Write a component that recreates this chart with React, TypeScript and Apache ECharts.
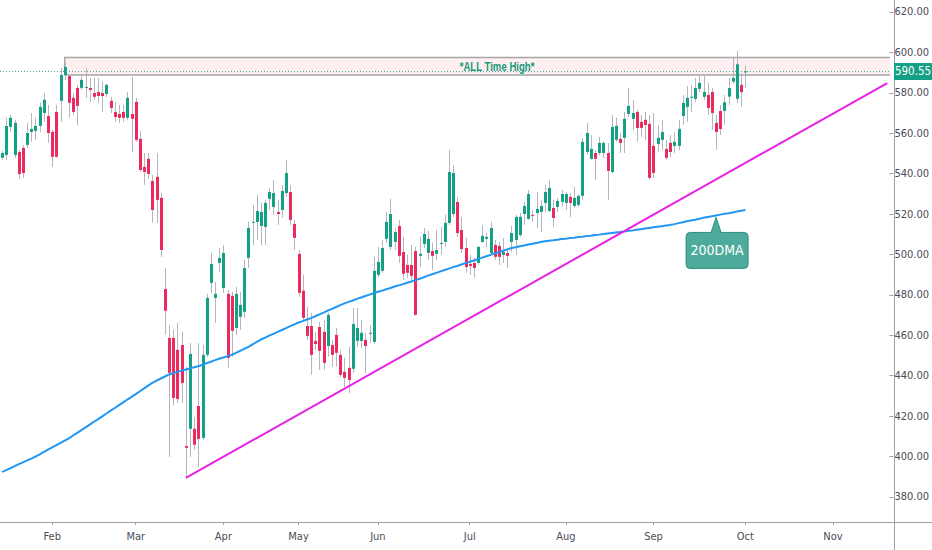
import React, { useEffect, useRef } from 'react';
import * as echarts from 'echarts';

// ---------- data ----------
const MONTH_LABELS = ['Feb', 'Mar', 'Apr', 'May', 'Jun', 'Jul', 'Aug', 'Sep', 'Oct', 'Nov'];
const MONTH_START = [12, 32, 53, 71, 90, 112, 135, 156, 178, 199];
const TOTAL_SLOTS = 213;

// [open, close, low, high]
const CANDLES = [
  [547.8, 550.2, 546.8, 551.2], [549.2, 563.6, 546.8, 567.6], [563.1, 567.6, 560.6, 569.0], [549.2, 565.1, 547.8, 566.6],
  [550.7, 539.8, 537.4, 551.7], [552.7, 540.3, 537.9, 554.2], [554.2, 560.1, 552.7, 565.1], [560.6, 562.1, 555.7, 570.0],
  [561.1, 563.6, 556.7, 567.6], [563.6, 573.0, 560.6, 575.0], [570.0, 576.5, 565.6, 579.9], [568.5, 560.1, 555.2, 574.0],
  [560.6, 548.3, 543.3, 561.6], [570.5, 548.3, 547.8, 574.0], [576.0, 588.8, 565.6, 592.3], [588.8, 592.8, 586.4, 594.5],
  [588.3, 575.0, 567.6, 588.8], [577.5, 570.5, 569.0, 579.9], [582.4, 573.5, 564.1, 583.9], [582.4, 586.4, 581.4, 588.8],
  [582.4, 582.9, 577.5, 592.3], [582.4, 581.4, 575.5, 587.3], [579.9, 578.0, 576.5, 587.3], [580.4, 578.4, 575.0, 587.3],
  [579.9, 578.4, 570.5, 585.4], [579.4, 583.9, 578.0, 584.4], [576.0, 572.5, 570.0, 578.0], [570.5, 568.0, 565.6, 575.5],
  [569.5, 567.6, 565.1, 574.0], [570.5, 567.6, 565.6, 574.0], [567.6, 577.5, 566.6, 580.4], [569.5, 567.1, 550.7, 587.8],
  [575.5, 556.7, 555.7, 577.5], [557.2, 541.8, 540.8, 561.1], [543.3, 540.8, 534.4, 550.2], [547.3, 539.8, 537.4, 550.2],
  [536.4, 522.0, 515.6, 539.3], [538.4, 527.0, 515.6, 550.2], [528.0, 502.2, 498.8, 530.4], [482.9, 472.1, 460.2, 493.3],
  [458.7, 441.4, 399.8, 465.1], [458.7, 429.0, 425.5, 462.7], [452.8, 428.5, 426.5, 466.1], [455.2, 436.4, 426.5, 461.7],
  [405.2, 404.3, 389.4, 444.4], [413.7, 450.8, 399.8, 456.2], [413.7, 405.8, 403.3, 419.6], [425.0, 408.7, 394.9, 456.2],
  [409.2, 450.3, 408.2, 455.2], [450.3, 478.5, 449.3, 480.5], [485.9, 495.3, 481.0, 500.7], [478.5, 480.5, 466.1, 486.4],
  [495.8, 498.3, 491.4, 503.2], [483.4, 500.7, 481.0, 504.7], [480.5, 448.8, 443.9, 482.5], [479.5, 462.2, 449.3, 481.5],
  [463.6, 480.5, 460.2, 484.0], [469.1, 475.0, 462.7, 481.5], [471.6, 493.3, 468.6, 497.3], [498.3, 513.1, 493.3, 516.1],
  [515.6, 516.1, 504.7, 524.5], [516.1, 521.5, 507.2, 529.5], [514.1, 521.0, 504.7, 525.5], [513.6, 525.5, 504.7, 527.0],
  [527.5, 530.9, 522.0, 532.9], [523.5, 530.4, 519.6, 536.9], [521.0, 520.0, 514.6, 527.0], [522.0, 531.4, 518.1, 534.4],
  [530.4, 540.3, 528.5, 546.8], [530.9, 517.1, 514.6, 534.4], [515.1, 508.2, 502.2, 517.1], [500.3, 481.0, 479.0, 502.2],
  [482.0, 468.6, 466.6, 489.9], [464.6, 459.7, 457.7, 474.0], [464.6, 450.3, 440.4, 471.1], [457.2, 455.7, 452.8, 461.7],
  [464.1, 452.3, 442.9, 466.6], [461.7, 446.3, 442.9, 467.6], [454.7, 470.1, 449.3, 471.1], [455.2, 450.3, 444.4, 457.7],
  [460.2, 451.3, 444.4, 463.6], [450.3, 440.4, 439.4, 452.8], [441.9, 438.9, 434.4, 448.8], [443.9, 437.9, 431.5, 454.2],
  [443.4, 465.6, 441.4, 473.5], [457.2, 463.6, 454.2, 473.5], [457.2, 461.2, 453.8, 467.6], [457.7, 454.7, 441.4, 461.2],
  [460.7, 461.2, 456.2, 465.1], [456.7, 491.9, 455.7, 498.8], [489.9, 496.3, 488.9, 503.7], [491.9, 503.2, 490.9, 507.2],
  [507.7, 516.1, 505.7, 521.0], [503.7, 520.0, 502.2, 527.5], [506.2, 511.1, 502.2, 513.1], [514.1, 499.3, 495.8, 517.1],
  [501.2, 490.4, 487.4, 508.7], [494.8, 490.9, 488.4, 499.8], [494.8, 489.4, 487.4, 504.7], [501.7, 470.1, 469.6, 503.7],
  [499.3, 500.3, 493.8, 508.7], [505.2, 510.1, 503.2, 513.1], [500.7, 507.7, 497.3, 511.6], [501.7, 499.3, 492.3, 505.7],
  [500.3, 502.2, 497.3, 512.1], [505.2, 505.7, 499.8, 513.6], [506.2, 515.6, 503.7, 519.6], [515.6, 540.8, 514.6, 551.7],
  [520.0, 540.3, 518.6, 544.3], [526.0, 510.6, 508.7, 528.5], [512.1, 502.7, 500.7, 518.6], [503.2, 493.8, 490.9, 508.2],
  [495.3, 494.3, 489.9, 499.8], [495.8, 493.3, 488.4, 498.3], [495.8, 503.7, 494.8, 504.2], [506.2, 509.2, 505.7, 514.6],
  [507.7, 508.7, 503.7, 510.6], [500.7, 513.1, 499.8, 516.1], [504.7, 498.8, 497.3, 507.2], [504.2, 498.8, 494.8, 506.2],
  [499.8, 501.2, 495.8, 508.2], [500.7, 499.3, 493.3, 503.2], [506.2, 510.6, 501.2, 514.1], [507.2, 518.6, 499.8, 519.6],
  [509.6, 518.6, 508.7, 520.5], [520.0, 524.0, 514.6, 526.0], [517.6, 529.9, 517.1, 531.9], [519.6, 519.3, 516.1, 522.0],
  [520.5, 522.5, 513.1, 530.9], [521.0, 524.0, 511.1, 527.0], [525.5, 530.9, 521.0, 534.4], [521.5, 532.9, 521.0, 536.9],
  [523.0, 518.1, 513.6, 527.0], [523.5, 526.5, 521.0, 528.0], [526.0, 529.9, 523.5, 531.9], [525.5, 529.9, 522.0, 530.9],
  [528.5, 525.5, 518.6, 530.4], [524.0, 528.0, 523.0, 533.4], [524.5, 529.0, 523.5, 529.5], [529.0, 555.7, 527.0, 557.7],
  [550.7, 560.1, 549.2, 565.1], [547.3, 552.2, 546.8, 559.1], [550.2, 547.3, 536.9, 551.7], [550.2, 555.2, 549.2, 558.2],
  [550.2, 555.2, 547.8, 555.7], [550.2, 541.3, 527.0, 555.2], [540.8, 563.1, 540.3, 569.0], [556.7, 563.6, 555.7, 567.6],
  [557.2, 555.2, 550.2, 560.1], [557.7, 567.1, 550.2, 570.5], [569.5, 573.5, 568.0, 582.4], [567.1, 570.0, 561.6, 576.5],
  [570.5, 562.6, 555.7, 571.5], [565.6, 562.6, 558.2, 569.0], [566.6, 564.1, 556.7, 570.5], [564.6, 537.9, 536.9, 569.0],
  [553.7, 540.3, 537.9, 570.0], [554.7, 557.7, 550.7, 564.1], [556.7, 560.6, 551.7, 566.6], [552.2, 547.8, 546.8, 556.7],
  [555.2, 550.7, 548.3, 559.1], [553.7, 555.7, 550.2, 560.6], [553.7, 562.1, 551.7, 566.6], [568.5, 575.0, 564.1, 578.9],
  [573.0, 577.5, 565.6, 583.4], [577.5, 578.0, 570.5, 583.9], [577.0, 582.4, 575.5, 587.3], [581.9, 584.9, 580.4, 588.8],
  [578.0, 580.4, 576.5, 588.8], [578.9, 572.5, 569.0, 584.9], [580.4, 570.0, 561.6, 582.4], [565.1, 560.6, 551.7, 569.0],
  [571.0, 562.1, 559.1, 574.0], [571.0, 575.3, 564.1, 578.9], [578.1, 582.3, 574.0, 587.3], [585.5, 587.4, 584.6, 597.8],
  [577.0, 594.1, 574.8, 600.7], [583.9, 580.3, 573.1, 589.7], [590.3, 590.55, 582.5, 593.4],
];

const MA200 = [
  392.4, 393.3, 394.3, 395.2, 396.2, 397.1, 398.1, 399.0, 400.0,
  401.1, 402.3, 403.4, 404.5, 405.6, 406.8, 407.9, 409.0,
  410.4, 411.7, 413.1, 414.4, 415.8, 417.2, 418.5, 419.9,
  421.3, 422.7, 424.0, 425.4, 426.8, 428.2, 429.5, 430.9,
  432.3, 433.7, 435.1, 436.5,
  437.6, 438.6, 439.6, 440.6,
  441.2, 441.9, 442.5, 443.1,
  443.6, 444.2, 444.7,
  445.4, 446.2, 446.9, 447.7, 448.4,
  449.0, 449.7, 450.3,
  451.3, 452.3, 453.3, 454.3,
  455.5, 456.7, 457.9,
  458.8, 459.8, 460.7, 461.7, 462.6,
  463.5, 464.5, 465.4, 466.3,
  467.0, 467.8, 468.5,
  469.4, 470.3, 471.2, 472.2, 473.1, 474.0, 474.9, 475.8,
  476.5, 477.2, 478.0, 478.7, 479.4, 480.1, 480.8, 481.5,
  482.1, 482.8, 483.4, 484.1, 484.7, 485.3, 486.0, 486.6,
  487.3, 488.0, 488.7, 489.5, 490.2, 490.9, 491.6, 492.3,
  493.0, 493.7, 494.3, 495.0, 495.7, 496.4, 497.0, 497.7,
  498.4, 499.1, 499.8, 500.5, 501.1, 501.8, 502.5, 503.2,
  503.6, 504.0, 504.4, 504.9, 505.3, 505.7, 506.1, 506.5,
  506.8, 507.0, 507.3, 507.6, 507.8, 508.1,
  508.3, 508.6, 508.8, 509.1, 509.3, 509.6, 509.8, 510.1,
  510.4, 510.6, 510.9, 511.1, 511.4, 511.7, 511.9, 512.2,
  512.5, 512.8, 513.1, 513.4, 513.7, 514.0, 514.3, 514.6,
  515.0, 515.5, 515.9, 516.4, 516.8, 517.2, 517.7, 518.1,
  518.5, 518.9, 519.3, 519.7, 520.1, 520.4, 520.8, 521.2, 521.6, 522.0,
];

// trend line endpoints [category index, price]
const TREND_LINE = [[44, 389.4], [212, 584.8]];
// all time high zone: [start index, top price, bottom price]
const ATH_ZONE = [15, 597.5, 588.8];
const ATH_LABEL = '*ALL Time High*';
const MA_LABEL = '200DMA';
const MA_LABEL_INDEX = 171;
const LAST_PRICE = 590.55;
const Y_TICKS = [380, 400, 420, 440, 460, 480, 500, 520, 540, 560, 580, 600, 620];
const Y_MIN = 367.6;
const Y_MAX = 625.9;

// ---------- style ----------
const UP = '#14a085';
const DOWN = '#eb2a5d';
const WICK = '#b3b6bd';
const AXIS_COLOR = '#9ea1aa';
const TEXT_COLOR = '#4a4d57';
const FONT = "'Liberation Sans Narrow', 'DejaVu Sans Condensed', 'Liberation Sans', sans-serif";
const W = 932;
const H = 550;
const GRID_RIGHT = 38;
const GRID_BOTTOM = 28;
const CALLOUT_PATH =
  'M4 0 L25 0 L30 -15 L35 0 L58 0 Q62 0 62 4 L62 32 Q62 36 58 36 L4 36 Q0 36 0 32 L0 4 Q0 0 4 0 Z';

const CATEGORIES = Array.from({ length: TOTAL_SLOTS }, (_, i) => String(i));
const monthOf = (i: number) => {
  const k = MONTH_START.indexOf(i);
  return k >= 0 ? MONTH_LABELS[k] : '';
};
const isMonthStart = (i: number) => MONTH_START.indexOf(i) >= 0;

let registered = false;

export default function App() {
  const ref = useRef<HTMLDivElement>(null);

  useEffect(() => {
    document.body.style.margin = '0';
    if (!registered) {
      echarts.graphic.registerShape('dmaCallout', echarts.graphic.extendPath(CALLOUT_PATH, {}) as any);
      registered = true;
    }
    const chart = echarts.init(ref.current!, null, { renderer: 'svg' });

    const candleData = CANDLES.map((d, i) => [i, d[0], d[1], d[2], d[3]]);

    const option: any = {
      animation: false,
      backgroundColor: '#ffffff',
      grid: { left: -3, right: GRID_RIGHT, top: 0, bottom: GRID_BOTTOM },
      xAxis: {
        type: 'category',
        data: CATEGORIES,
        boundaryGap: true,
        axisLine: { show: false },
        axisTick: {
          show: true,
          alignWithLabel: true,
          interval: (i: number) => isMonthStart(i),
          length: 3,
          lineStyle: { color: AXIS_COLOR },
        },
        axisLabel: {
          interval: (i: number) => isMonthStart(i),
          formatter: (_v: string, i: number) => monthOf(i),
          margin: 9,
          color: TEXT_COLOR,
          fontSize: 11,
          fontFamily: FONT,
        },
        splitLine: { show: false },
      },
      yAxis: {
        type: 'value',
        position: 'right',
        min: Y_MIN,
        max: Y_MAX,
        axisLine: { show: false },
        axisTick: { show: true, length: 4, customValues: Y_TICKS, lineStyle: { color: AXIS_COLOR } },
        axisLabel: {
          customValues: Y_TICKS,
          formatter: (v: number) => v.toFixed(2),
          margin: 5,
          color: TEXT_COLOR,
          fontSize: 11,
          fontFamily: FONT,
        },
        splitLine: { show: false },
      },
      series: [
        {
          type: 'custom',
          name: 'ath',
          clip: true,
          data: [ATH_ZONE],
          encode: { x: 0, y: [1, 2] },
          renderItem: (params: any, api: any) => {
            const cs = params.coordSys;
            const a = api.coord([api.value(0), api.value(1)]);
            const b = api.coord([api.value(0), api.value(2)]);
            const right = cs.x + cs.width + 40;
            return {
              type: 'group',
              children: [
                {
                  type: 'rect',
                  shape: { x: a[0], y: a[1], width: right - a[0], height: b[1] - a[1] },
                  style: { fill: 'rgba(242, 54, 69, 0.08)', stroke: '#a6a6a6', lineWidth: 1.5 },
                },
                {
                  type: 'text',
                  x: (a[0] + right) / 2,
                  y: (a[1] + b[1]) / 2,
                  scaleX: 0.8,
                  style: {
                    text: ATH_LABEL,
                    x: 0,
                    y: 0,
                    align: 'center',
                    verticalAlign: 'middle',
                    fill: '#169a78',
                    fontSize: 12,
                    fontWeight: 'bold',
                    fontFamily: "'Liberation Sans', sans-serif",
                  },
                },
              ],
            };
          },
        },
        {
          type: 'custom',
          name: 'candles',
          clip: true,
          data: candleData,
          encode: { x: 0, y: [1, 2, 3, 4] },
          renderItem: (_params: any, api: any) => {
            const x = api.value(0);
            const o = api.value(1);
            const c = api.value(2);
            const l = api.value(3);
            const h = api.value(4);
            const pO = api.coord([x, o]);
            const pC = api.coord([x, c]);
            const pL = api.coord([x, l]);
            const pH = api.coord([x, h]);
            const w = api.size([1, 0])[0] * 0.72;
            const top = Math.min(pO[1], pC[1]);
            const bh = Math.max(Math.abs(pO[1] - pC[1]), 1);
            const wx = Math.round(pO[0]) + 0.5;
            return {
              type: 'group',
              children: [
                {
                  type: 'line',
                  shape: { x1: wx, y1: pH[1], x2: wx, y2: pL[1] },
                  style: { stroke: WICK, lineWidth: 1 },
                },
                {
                  type: 'rect',
                  shape: { x: wx - w / 2, y: top, width: w, height: bh },
                  style: { fill: c >= o ? UP : DOWN },
                },
              ],
            };
          },
        },
        {
          type: 'line',
          name: '200DMA',
          data: MA200,
          symbol: 'none',
          lineStyle: { color: '#2196f3', width: 2 },
          silent: true,
          markLine: {
            silent: true,
            symbol: ['none', 'none'],
            label: { show: false },
            lineStyle: { type: [1, 2], color: '#2aa38f', width: 1, opacity: 0.9 },
            data: [{ yAxis: LAST_PRICE }],
          },
        },
        {
          type: 'line',
          name: 'trend',
          data: TREND_LINE,
          symbol: 'none',
          lineStyle: { color: '#e91ee6', width: 2 },
          silent: true,
        },
      ],
    };

    chart.setOption(option);

    const axisX = W - GRID_RIGHT + 0.5;
    const axisY = H - GRID_BOTTOM + 0.5;
    const tip = chart.convertToPixel({ xAxisIndex: 0, yAxisIndex: 0 }, [MA_LABEL_INDEX, MA200[MA_LABEL_INDEX]]) as number[];
    const py = chart.convertToPixel({ yAxisIndex: 0 }, LAST_PRICE) as number;
    const tx = tip[0];
    const ty = tip[1] + 2;

    chart.setOption({
      graphic: [
        { type: 'line', z: 100, shape: { x1: axisX, y1: 0, x2: axisX, y2: H }, style: { stroke: AXIS_COLOR, lineWidth: 1 } },
        { type: 'line', z: 100, shape: { x1: 0, y1: axisY, x2: W, y2: axisY }, style: { stroke: AXIS_COLOR, lineWidth: 1 } },
        {
          type: 'rect',
          z: 101,
          shape: { x: axisX - 0.5, y: py - 8.5, width: W - axisX + 0.5, height: 17 },
          style: { fill: UP },
        },
        {
          type: 'text',
          z: 102,
          style: {
            text: LAST_PRICE.toFixed(2),
            x: axisX + 18.5,
            y: py,
            align: 'center',
            verticalAlign: 'middle',
            textAlign: 'center',
            textVerticalAlign: 'middle',
            fill: '#ffffff',
            fontSize: 11.5,
            fontFamily: FONT,
          },
        },
        {
          type: 'dmaCallout',
          z: 101,
          x: tx - 30,
          y: ty + 15,
          style: { fill: '#4dab9b', stroke: '#2f8c7c', lineWidth: 1 },
        },
        {
          type: 'text',
          z: 102,
          style: {
            text: MA_LABEL,
            x: tx + 1,
            y: ty + 33,
            align: 'center',
            verticalAlign: 'middle',
            textAlign: 'center',
            textVerticalAlign: 'middle',
            fill: '#ffffff',
            fontSize: 14,
            fontFamily: FONT,
          },
        },
      ],
    });

    return () => chart.dispose();
  }, []);

  return <div ref={ref} style={{ width: W, height: H }} />;
}
